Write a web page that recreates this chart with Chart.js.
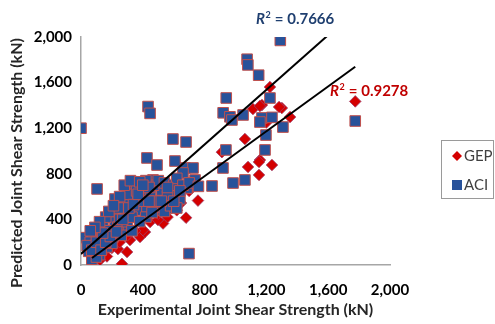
<!DOCTYPE html>
<html>
<head>
<meta charset="utf-8">
<script src="https://cdn.jsdelivr.net/npm/chart.js@4/dist/chart.umd.min.js"></script>
<style>
  html, body { margin: 0; padding: 0; background: #fff; }
  #wrap { width: 495px; height: 324px; }
</style>
</head>
<body>
<div id="wrap"><canvas id="shearChart" width="495" height="324"></canvas></div>
<script>
// ACI predicted vs experimental (kN)
const aciX = [0, 0, 1290, 1075, 1080, 1150, 940, 1223, 920, 1049, 964, 1171, 1236, 1307, 1775,
  434, 447, 595, 680, 977, 1158, 1197, 1191, 938, 919, 673, 725, 699, 848, 984, 1061, 686, 738,
  427, 492, 608, 660, 104, 220, 285, 350, 350, 414, 427, 466, 524, 531, 595, 557, 511, 201, 220,
  272, 142, 78, 136, 207, 168, 104, 298, 362, 427, 479, 239, 60, 90, 120, 150, 180, 250, 300,
  330, 380, 400, 450, 470, 500, 540, 560, 600, 620, 640, 660, 700, 760, 540, 580, 420, 380, 330,
  260, 200, 120, 160, 240, 300, 420, 480, 620, 360, 250, 280, 320, 380, 440, 70, 100, 50,
  40, 70, 100, 130, 160, 190, 230, 270, 310, 340, 370, 400, 440, 460, 520, 560, 600, 640,
  180, 210, 140, 120, 90, 60];
const aciY = [1200, 240, 1970, 1805, 1755, 1665, 1465, 1465, 1335, 1316, 1300, 1290, 1295, 1210, 1263,
  1390, 1330, 1105, 1079, 1272, 1254, 1140, 1009, 1009, 851, 851, 851, 100, 693, 719, 746, 675, 746,
  939, 877, 912, 807, 667, 579, 570, 684, 570, 596, 702, 746, 658, 553, 640, 500, 482, 456, 377,
  333, 333, 280, 237, 246, 158, 149, 456, 482, 509, 509, 333, 200, 110, 90, 240, 300, 400, 380,
  420, 560, 650, 620, 700, 740, 720, 600, 700, 760, 580, 700, 720, 690, 470, 520, 420, 380, 300,
  260, 190, 180, 420, 500, 620, 740, 560, 500, 650, 600, 700, 740, 730, 680, 50, 70, 120,
  170, 130, 200, 130, 200, 250, 290, 400, 500, 530, 620, 700, 560, 460, 560, 680, 560, 650,
  470, 520, 280, 380, 330, 300];

// GEP predicted vs experimental (kN)
const gepX = [1775, 1300, 1353, 1223, 1171, 1282, 1113, 1158, 1061, 1158, 1081, 1236, 1152, 1152,
  757, 680, 647, 634, 531, 447, 382, 414, 265, 239, 298, 168, 91, 71, 123, 317, 401, 498, 912,
  479, 434, 200, 350, 550, 600, 700, 500, 300, 150, 250, 1200, 560, 620];
const gepY = [1435, 1377, 1298, 1561, 1403, 1386, 1368, 1395, 1105, 921, 860, 877, 790, 904,
  565, 415, 544, 544, 364, 377, 246, 289, 10, 140, 114, 75, 40, 44, 44, 219, 307, 395, 990,
  553, 456, 150, 300, 500, 600, 650, 450, 260, 120, 200, 1250, 420, 480];

// linear trendlines [slope, intercept] and their x ranges
const aciTrend = [1.2, 97];
const gepTrend = [0.985, -9];
const aciTrendRange = [0, 1775];
const gepTrendRange = [71, 1775];

const xTicks = [0, 400, 800, 1200, 1600, 2000];
const yTicks = [0, 400, 800, 1200, 1600, 2000];
const r2Labels = ['0.7666', '0.9278'];
const seriesNames = ['GEP', 'ACI'];

const toPoints = (xs, ys) => xs.map((x, i) => ({ x: x, y: ys[i] }));
const trendPoints = (fit, range) => range.map(x => ({ x: x, y: fit[0] * x + fit[1] }));

const aciBlue = '#28529a';
const gepRed = '#d40000';
const fontFam = 'Lato, "Open Sans", sans-serif';

const overlay = {
  id: 'overlay',
  afterDraw(chart) {
    const ctx = chart.ctx;
    ctx.save();

    // y axis title
    ctx.save();
    ctx.translate(17, 163);
    ctx.rotate(-Math.PI / 2);
    ctx.font = 'bold 16px ' + fontFam;
    ctx.fillStyle = '#262626';
    ctx.textAlign = 'center';
    ctx.textBaseline = 'middle';
    ctx.fillText('Predicted Joint Shear Strength (kN)', 0, 0);
    ctx.restore();

    // R squared labels
    const r2 = (x, y, val, color) => {
      ctx.fillStyle = color;
      ctx.textBaseline = 'alphabetic';
      ctx.textAlign = 'left';
      ctx.font = 'italic bold 15px ' + fontFam;
      ctx.fillText('R', x, y);
      let w = ctx.measureText('R').width;
      ctx.font = 'bold 9px ' + fontFam;
      ctx.fillText('2', x + w + 0.5, y - 6);
      w += ctx.measureText('2').width + 1;
      ctx.font = 'bold 15px ' + fontFam;
      ctx.fillText(' = ' + val, x + w, y);
    };
    r2(256, 24, r2Labels[0], '#1f3f70');
    r2(330, 96, r2Labels[1], '#c00000');

    // legend box
    ctx.strokeStyle = '#9a9a9a';
    ctx.lineWidth = 1;
    ctx.strokeRect(441.5, 140.5, 52, 58);
    ctx.font = '15px ' + fontFam;
    ctx.fillStyle = '#404040';
    ctx.textBaseline = 'middle';
    ctx.fillText(seriesNames[0], 464, 156);
    ctx.fillText(seriesNames[1], 464, 185);
    ctx.beginPath();
    ctx.moveTo(457, 151); ctx.lineTo(462, 156); ctx.lineTo(457, 161); ctx.lineTo(452, 156);
    ctx.closePath();
    ctx.fillStyle = gepRed;
    ctx.fill();
    ctx.fillStyle = aciBlue;
    ctx.fillRect(452, 180, 10, 10);
    ctx.restore();
  }
};

const ctx = document.getElementById('shearChart').getContext('2d');
new Chart(ctx, {
  type: 'scatter',
  data: {
    datasets: [{
      label: 'ACI trend',
      data: trendPoints(aciTrend, aciTrendRange),
      showLine: true,
      borderColor: '#000',
      borderWidth: 2,
      pointRadius: 0
    }, {
      label: 'GEP trend',
      data: trendPoints(gepTrend, gepTrendRange),
      showLine: true,
      borderColor: '#000',
      borderWidth: 2,
      pointRadius: 0
    }, {
      label: seriesNames[1],
      data: toPoints(aciX, aciY),
      pointStyle: 'rect',
      pointRadius: 7.5,
      backgroundColor: aciBlue,
      borderColor: '#c0504d',
      borderWidth: 1
    }, {
      label: seriesNames[0],
      data: toPoints(gepX, gepY),
      pointStyle: 'rectRot',
      pointRadius: 5.8,
      backgroundColor: gepRed,
      borderColor: '#a0406a',
      borderWidth: 0.8
    }]
  },
  options: {
    responsive: false,
    devicePixelRatio: 1,
    animation: false,
    layout: { padding: { top: 37, right: 105, left: 0, bottom: 0 } },
    plugins: { legend: { display: false }, tooltip: { enabled: false } },
    scales: {
      x: {
        type: 'linear',
        min: xTicks[0],
        max: xTicks[xTicks.length - 1],
        afterBuildTicks: s => { s.ticks = xTicks.map(v => ({ value: v })); },
        afterFit: s => { s.height = 59; },
        grid: { display: false, drawTicks: false },
        border: { color: '#a6a6a6', width: 1.5 },
        ticks: {
          padding: 16,
          color: '#000',
          font: { family: fontFam, size: 15, weight: 'bold' },
          callback: v => v.toLocaleString('en-US')
        },
        title: {
          display: true,
          text: 'Experimental Joint Shear Strength (kN)',
          color: '#262626',
          font: { family: fontFam, size: 16, weight: 'bold' },
          padding: { top: 0, bottom: 5 }
        }
      },
      y: {
        min: yTicks[0],
        max: yTicks[yTicks.length - 1],
        afterBuildTicks: s => { s.ticks = yTicks.map(v => ({ value: v })); },
        afterFit: s => { s.width = 81; },
        grid: { display: false, drawTicks: false },
        border: { color: '#a6a6a6', width: 1.5 },
        ticks: {
          padding: 9,
          color: '#000',
          font: { family: fontFam, size: 15, weight: 'bold' },
          callback: v => v.toLocaleString('en-US')
        }
      }
    }
  },
  plugins: [overlay]
});
</script>
</body>
</html>
